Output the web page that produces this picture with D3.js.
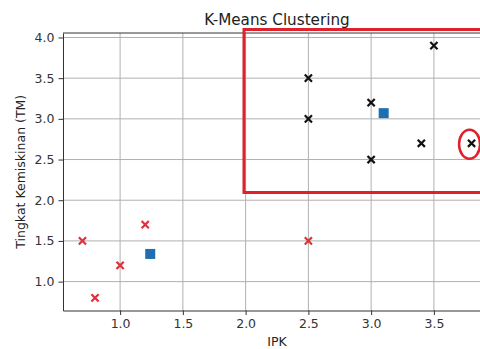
<!DOCTYPE html>
<html>
<head>
<meta charset="utf-8">
<script src="https://cdn.jsdelivr.net/npm/d3@7"></script>
<style>
  body { margin: 0; background: #fff; }
  svg { font-family: "DejaVu Sans", sans-serif; }
  .grid line { stroke: #b0b0b0; stroke-width: 1; }
  .axis path, .axis line { stroke: #333; }
</style>
</head>
<body>
<svg id="chart"></svg>
<script>
// cluster 1 (red)
var c1X = [0.7, 0.8, 1.0, 1.2, 2.5]
var c1Y = [1.5, 0.8, 1.2, 1.7, 1.5]
// cluster 2 (black)
var c2X = [2.5, 2.5, 3.0, 3.0, 3.5, 3.4, 3.8]
var c2Y = [3.5, 3.0, 3.2, 2.5, 3.9, 2.7, 2.7]
// centroids
var centX = [1.24, 3.1]
var centY = [1.34, 3.07]
var xTicks = [1.0, 1.5, 2.0, 2.5, 3.0, 3.5]
var yTicks = [1.0, 1.5, 2.0, 2.5, 3.0, 3.5, 4.0]

var w = 480,
  h = 349,
  pLeft = 63,
  pRight = 491,
  pTop = 33,
  pBottom = 310.5

var svg = d3.select('#chart').attr('width', w).attr('height', h)

var x = d3.scaleLinear().domain([0.545, 3.955]).range([pLeft, pRight])
var y = d3.scaleLinear().domain([0.645, 4.055]).range([pBottom, pTop])

// grid
var grid = svg.append('g').attr('class', 'grid')
grid.selectAll('.gx').data(xTicks).enter().append('line')
  .attr('x1', d => x(d)).attr('x2', d => x(d))
  .attr('y1', pTop).attr('y2', pBottom)
grid.selectAll('.gy').data(yTicks).enter().append('line')
  .attr('y1', d => y(d)).attr('y2', d => y(d))
  .attr('x1', pLeft).attr('x2', pRight)

// axes
var fmt = d3.format('.1f')
svg.append('g').attr('class', 'axis')
  .attr('transform', 'translate(0,' + pBottom + ')')
  .call(d3.axisBottom(x).tickValues(xTicks).tickFormat(fmt).tickSize(4.5).tickPadding(4).tickSizeOuter(0))
svg.append('g').attr('class', 'axis')
  .attr('transform', 'translate(' + pLeft + ',0)')
  .call(d3.axisLeft(y).tickValues(yTicks).tickFormat(fmt).tickSize(4.5).tickPadding(4).tickSizeOuter(0))
svg.selectAll('.axis')
  .attr('font-family', '"DejaVu Sans", sans-serif')
  .attr('font-size', 12.5)
svg.selectAll('.axis text').attr('fill', '#333')
// top spine
svg.append('line').attr('x1', pLeft).attr('x2', pRight).attr('y1', pTop).attr('y2', pTop)
  .attr('stroke', '#333')

// x markers
function cross(g, xs, ys, color, size) {
  g.selectAll(null).data(xs).enter().append('path')
    .attr('transform', (d, i) => 'translate(' + x(d) + ',' + y(ys[i]) + ')')
    .attr('d', 'M' + -size + ',' + -size + 'L' + size + ',' + size + 'M' + -size + ',' + size + 'L' + size + ',' + -size)
    .attr('stroke', color)
    .attr('stroke-width', 2.2)
    .attr('fill', 'none')
}
var pts = svg.append('g')
cross(pts, c1X, c1Y, '#e0303a', 3.6)
cross(pts, c2X, c2Y, '#111', 3.6)

pts.selectAll('rect').data(centX).enter().append('rect')
  .attr('x', (d) => x(d) - 5)
  .attr('y', (d, i) => y(centY[i]) - 5)
  .attr('width', 10).attr('height', 10)
  .attr('fill', '#1f6eb0')

// annotations
svg.append('rect')
  .attr('x', 244).attr('y', 29.5)
  .attr('width', 250).attr('height', 163)
  .attr('fill', 'none').attr('stroke', '#e0202a').attr('stroke-width', 3)
svg.append('ellipse')
  .attr('cx', x(3.8) - 2).attr('cy', y(2.7) + 1)
  .attr('rx', 10.5).attr('ry', 14.5)
  .attr('fill', 'none').attr('stroke', '#e0202a').attr('stroke-width', 2.5)

// labels
svg.append('text').attr('x', (pLeft + pRight) / 2).attr('y', 25)
  .attr('text-anchor', 'middle').attr('font-size', 15.2).attr('fill', '#222')
  .text('K-Means Clustering')
svg.append('text').attr('x', (pLeft + pRight) / 2).attr('y', 345.5)
  .attr('text-anchor', 'middle').attr('font-size', 12.5).attr('fill', '#222')
  .text('IPK')
svg.append('text')
  .attr('transform', 'translate(25,' + (pTop + pBottom) / 2 + ')rotate(-90)')
  .attr('text-anchor', 'middle').attr('font-size', 12.5).attr('fill', '#222')
  .text('Tingkat Kemiskinan (TM)')
</script>
</body>
</html>
